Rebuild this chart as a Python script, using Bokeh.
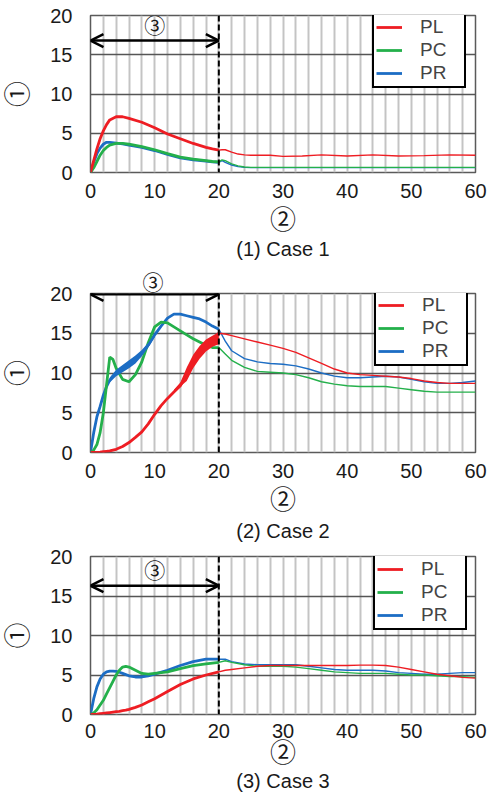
import numpy as np
from bokeh.plotting import figure
from bokeh.layouts import column
from bokeh.models import (Range1d, FixedTicker, Span, Label, Arrow, OpenHead,
                          Legend, LegendItem, Title)
from bokeh.embed import file_html
from bokeh.resources import INLINE

# ---------------- data ----------------
X_TICKS = [0, 10, 20, 30, 40, 50, 60]
Y_TICKS = [0, 5, 10, 15, 20]
SERIES = ["PL", "PC", "PR"]
CAPTIONS = ["(1) Case 1", "(2) Case 2", "(3) Case 3"]

# Case 1
x1 = [0, 0.5, 1, 1.5, 2, 2.5, 3, 4, 5, 6, 8, 10, 12, 14, 16, 18, 19, 20,
      20.5, 21, 22, 23, 24, 25, 28, 30, 33, 36, 40, 44, 48, 52, 56, 60]
pl1 = [0, 1.5, 3.0, 4.3, 5.3, 6.1, 6.7, 7.1, 7.1, 6.9, 6.4, 5.7, 4.9, 4.3, 3.7, 3.2, 3.0, 2.85,
       2.9, 2.9, 2.6, 2.35, 2.25, 2.2, 2.2, 2.05, 2.1, 2.25, 2.1, 2.25, 2.1, 2.15, 2.25, 2.2]
pc1 = [0, 0.6, 1.4, 2.2, 2.8, 3.2, 3.5, 3.7, 3.7, 3.6, 3.3, 2.9, 2.4, 1.95, 1.7, 1.5, 1.4, 1.35,
       1.6, 1.5, 1.1, 0.85, 0.7, 0.65, 0.65, 0.65, 0.65, 0.65, 0.65, 0.65, 0.65, 0.65, 0.65, 0.65]
pr1 = [0, 1.3, 2.4, 3.1, 3.6, 3.85, 3.85, 3.75, 3.65, 3.5, 3.2, 2.8, 2.3, 1.85, 1.6, 1.45, 1.35, 1.3,
       1.5, 1.3, 0.95, 0.75, 0.65, 0.62, 0.62, 0.62, 0.62, 0.62, 0.62, 0.62, 0.62, 0.62, 0.62, 0.62]

# Case 2
x2 = [0, 0.5, 1, 1.5, 2, 2.5, 3, 3.5, 4, 5, 6, 7, 8, 9, 10, 11, 12, 13, 14, 15, 16, 17, 18, 19, 20,
      21, 22, 24, 26, 28, 30, 32, 34, 36, 38, 40, 42, 44, 46, 48, 50, 52, 54, 56, 58, 60]
pl2 = [0, 0, 0.02, 0.05, 0.1, 0.15, 0.2, 0.3, 0.4, 0.75, 1.25, 1.9, 2.6, 3.6, 4.8, 5.9, 6.8, 7.6, 8.4,
       9.8, 11.4, 12.6, 13.4, 14.0, 15.0,
       14.9, 14.7, 14.3, 13.9, 13.5, 13.1, 12.6, 11.9, 11.2, 10.5, 10.0, 9.8, 9.7, 9.6, 9.5, 9.3,
       9.0, 8.8, 8.7, 8.7, 8.7]
pc2 = [0, 0.3, 1.0, 2.5, 5.0, 8.5, 12.0, 11.7, 10.6, 9.2, 8.9, 9.8, 11.4, 13.8, 15.8, 16.4, 16.3,
       15.8, 15.3, 14.8, 14.3, 13.9, 13.5, 13.2, 13.2,
       12.4, 11.6, 10.7, 10.2, 10.1, 10.0, 9.8, 9.4, 8.9, 8.6, 8.4, 8.3, 8.3, 8.3, 8.1, 7.9,
       7.7, 7.6, 7.6, 7.6, 7.6]
pr2 = [0, 2.5, 4.5, 5.8, 7.2, 8.3, 9.1, 9.6, 10.0, 10.5, 11.1, 11.7, 12.5, 13.5, 14.8, 15.9, 16.9,
       17.4, 17.4, 17.2, 17.0, 16.8, 16.4, 15.9, 15.5,
       14.0, 12.8, 11.8, 11.4, 11.2, 11.1, 10.9, 10.5, 10.0, 9.6, 9.4, 9.4, 9.5, 9.6, 9.5, 9.2,
       8.9, 8.7, 8.7, 8.8, 9.0]
# thick parts of Case 2
pl2_band_x = [13, 14, 15, 16, 17, 18, 19, 19.9, 20]
pl2_band_lo = [7.6, 8.3, 9.0, 10.6, 11.8, 12.7, 13.3, 13.6, 14.2]
pl2_band_hi = [7.9, 8.8, 10.7, 12.3, 13.4, 14.2, 14.7, 15.1, 15.1]
pr2_band_x = [3, 4, 5, 6, 7, 8, 9, 10]
pr2_band_lo = [8.8, 9.6, 10.1, 10.6, 11.2, 12.1, 13.2, 14.5]
pr2_band_hi = [9.4, 10.4, 11.0, 11.6, 12.2, 12.9, 13.8, 15.0]

# Case 3
x3 = [0, 0.5, 1, 1.5, 2, 2.5, 3, 3.5, 4, 4.5, 5, 5.5, 6, 7, 8, 9, 10, 12, 14, 16, 18, 20,
      21, 22, 24, 26, 28, 30, 32, 34, 36, 38, 40, 42, 44, 46, 48, 50, 52, 54, 56, 58, 60]
pl3 = [0, 0.02, 0.05, 0.1, 0.15, 0.2, 0.25, 0.3, 0.35, 0.4, 0.5, 0.55, 0.65, 0.9, 1.2, 1.6, 2.0,
       2.9, 3.8, 4.5, 5.0, 5.4,
       5.6, 5.7, 5.9, 6.1, 6.2, 6.2, 6.2, 6.2, 6.2, 6.2, 6.2, 6.25, 6.25, 6.2, 6.0, 5.7, 5.4, 5.1,
       4.9, 4.7, 4.6]
pc3 = [0, 0.2, 0.6, 1.2, 1.8, 2.6, 3.4, 4.2, 5.0, 5.6, 6.0, 6.1, 6.0, 5.6, 5.2, 5.1, 5.2,
       5.4, 5.8, 6.2, 6.4, 6.6,
       6.8, 6.6, 6.3, 6.1, 6.1, 6.1, 6.0, 5.8, 5.6, 5.4, 5.3, 5.2, 5.2, 5.2, 5.1, 5.0, 5.0, 4.9,
       4.8, 4.8, 4.7]
pr3 = [0, 2.0, 3.5, 4.5, 5.1, 5.4, 5.5, 5.5, 5.45, 5.35, 5.2, 5.05, 4.9, 4.75, 4.75, 4.9, 5.1,
       5.6, 6.2, 6.7, 7.0, 7.0,
       7.0, 6.7, 6.4, 6.3, 6.3, 6.3, 6.3, 6.1, 5.9, 5.7, 5.6, 5.6, 5.6, 5.5, 5.3, 5.2, 5.1, 5.1,
       5.2, 5.3, 5.3]

COLORS = {"PL": "#ee1d23", "PC": "#24b04b", "PR": "#1c6dc4"}
FONT = "Liberation Sans"
CIRC = "'Liberation Sans', 'Noto Sans CJK JP'"
TXT = "#1a1a1a"

panels = [
    dict(x=x1, PL=pl1, PC=pc1, PR=pr1, height=267, top=15, bottom=95, tick_standoff=5,
         arrow_y=16.8, c3_y=18.7, c2_standoff=4, cap_standoff=-4, legend=(282, 84)),
    dict(x=x2, PL=pl2, PC=pc2, PR=pr2, height=279, top=26, bottom=94, tick_standoff=5,
         arrow_y=19.9, c3_y=None, c2_standoff=4, cap_standoff=0, legend=(284, 86)),
    dict(x=x3, PL=pl3, PC=pc3, PR=pr3, height=247, top=10, bottom=79, tick_standoff=3,
         arrow_y=16.3, c3_y=18.2, c2_standoff=-3, cap_standoff=-6, legend=(283, 84)),
]


def make_panel(i, d):
    p = figure(width=487, height=d["height"], output_backend="svg", toolbar_location=None,
               x_range=Range1d(0, 60), y_range=Range1d(0, 20),
               min_border_left=90, min_border_right=12,
               min_border_top=d["top"], min_border_bottom=d["bottom"])
    p.background_fill_color = "white"
    p.border_fill_color = "white"
    p.outline_line_color = "#5a5a5a"
    p.outline_line_width = 1.5

    p.xaxis.ticker = FixedTicker(ticks=X_TICKS)
    p.yaxis.ticker = FixedTicker(ticks=Y_TICKS)
    for ax in (p.xaxis, p.yaxis):
        ax.axis_line_color = None
        ax.major_tick_line_color = None
        ax.minor_tick_line_color = None
        ax.major_label_text_font = FONT
        ax.major_label_text_font_size = "20px"
        ax.major_label_text_color = TXT
        ax.axis_label_text_font = CIRC
        ax.axis_label_text_font_style = "normal"
        ax.axis_label_text_color = TXT
    p.xaxis.major_label_standoff = d["tick_standoff"]
    p.yaxis.major_label_standoff = 12
    p.xaxis.axis_label = "②"
    p.xaxis.axis_label_text_font_size = "26px"
    p.xaxis.axis_label_standoff = d["c2_standoff"]
    p.yaxis.axis_label = "①"
    p.yaxis.axis_label_text_font_size = "26px"
    p.yaxis.axis_label_standoff = 14

    p.xgrid.ticker = FixedTicker(ticks=list(range(0, 61, 2)))
    p.xgrid.grid_line_color = "#c4c4c4"
    p.xgrid.grid_line_width = 2
    p.ygrid.ticker = FixedTicker(ticks=Y_TICKS)
    p.ygrid.grid_line_color = "#555555"
    p.ygrid.grid_line_width = 1.5

    x = np.asarray(d["x"], dtype=float)
    m1 = x <= 20
    m2 = x >= 20
    legend_renderers = {}
    for s in ["PR", "PC", "PL"]:
        y = np.asarray(d[s], dtype=float)
        r = p.line(x[m1], y[m1], line_color=COLORS[s], line_width=2.8)
        p.line(x[m2], y[m2], line_color=COLORS[s], line_width=1.4)
        legend_renderers[s] = r

    if i == 1:
        p.varea(x=pr2_band_x, y1=pr2_band_lo, y2=pr2_band_hi, fill_color=COLORS["PR"])
        p.varea(x=pl2_band_x, y1=pl2_band_lo, y2=pl2_band_hi, fill_color=COLORS["PL"])

    # vertical dashed line at 20
    p.add_layout(Span(location=20, dimension="height", line_color="black",
                      line_width=2, line_dash="6 3"))
    # double arrow
    p.add_layout(Arrow(start=OpenHead(size=13, line_width=2.5, line_color="black"),
                       end=OpenHead(size=13, line_width=2.5, line_color="black"),
                       x_start=0, y_start=d["arrow_y"], x_end=20, y_end=d["arrow_y"],
                       line_width=2.5, line_color="black"))
    if d["c3_y"] is not None:
        p.add_layout(Label(x=10, y=d["c3_y"], text="③", text_font=CIRC, text_font_size="21px",
                           text_align="center", text_baseline="middle", text_color=TXT))
    else:
        p.add_layout(Title(text="③", align="left", offset=52, standoff=0, text_font=CIRC,
                           text_font_size="21px", text_font_style="normal", text_color=TXT),
                     "above")

    p.add_layout(Title(text=CAPTIONS[i], align="center", standoff=d["cap_standoff"],
                       text_font=FONT, text_font_size="20px", text_font_style="normal",
                       text_color=TXT), "below")

    items = [LegendItem(label=s, renderers=[legend_renderers[s]]) for s in SERIES]
    leg = Legend(items=items, location=d["legend"], border_line_color="black",
                 border_line_width=2, border_line_alpha=1,
                 background_fill_color="white", background_fill_alpha=1,
                 label_text_font=FONT, label_text_font_size="19px", label_height=22,
                 glyph_height=22, glyph_width=26, label_standoff=18, label_width=42,
                 spacing=1, padding=2, margin=0)
    p.add_layout(leg, "center")
    return p


figs = [make_panel(i, d) for i, d in enumerate(panels)]
layout = column(*figs, spacing=0)

with open("out.html", "w") as f:
    f.write(file_html(layout, INLINE))
